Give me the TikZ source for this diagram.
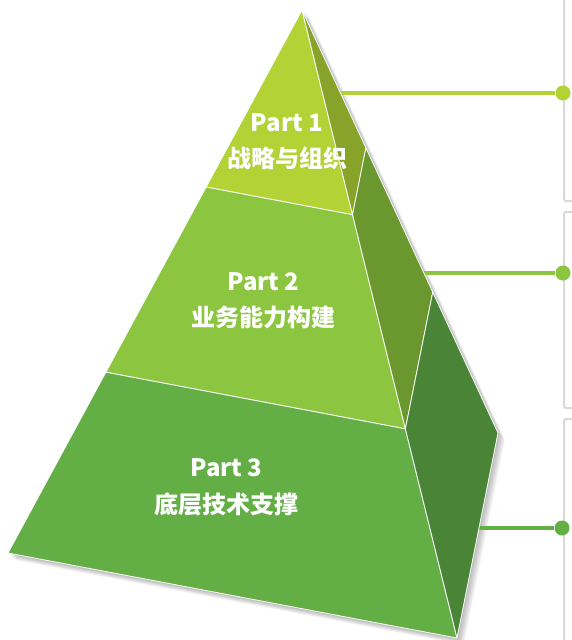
\documentclass[tikz,border=0pt]{standalone}
\usepackage{fontspec}
\newfontfamily\cjk{Noto Sans CJK SC}
\usetikzlibrary{calc}

\definecolor{frontA}{HTML}{B3D235}
\definecolor{sideA}{HTML}{87A329}
\definecolor{frontB}{HTML}{8CC540}
\definecolor{sideB}{HTML}{6B982E}
\definecolor{frontC}{HTML}{64AE46}
\definecolor{sideC}{HTML}{4A8436}
\definecolor{panelgray}{HTML}{D9D9D9}

\begin{document}
\begin{tikzpicture}[x=1pt,y=-1pt,
  face/.style={draw=white,line width=0.8pt,line join=round},
  lbl/.style={text=white,font=\cjk\bfseries\fontsize{24}{28}\selectfont,
    inner sep=0pt},
  lead/.style={line width=4.2pt},
  dot/.style={circle,inner sep=0pt,minimum size=15pt},
  panel/.style={draw=panelgray,line width=2pt,rounded corners=2pt}]
\useasboundingbox (0,0) rectangle (571,640);
% panels on the right
\draw[panel] (564,-20) rectangle (620,201);
\draw[panel] (564,212) rectangle (620,408);
\draw[panel] (564,419) rectangle (620,660);
% pyramid corners and cuts
\coordinate (apex) at (302,10);
\coordinate (bl) at (8,553);
\coordinate (bf) at (457,638);
\coordinate (bb) at (498,433);
\coordinate (l1) at ($(apex)!0.326!(bl)$);
\coordinate (f1) at ($(apex)!0.326!(bf)$);
\coordinate (b1) at ($(apex)!0.326!(bb)$);
\coordinate (l2) at ($(apex)!0.667!(bl)$);
\coordinate (f2) at ($(apex)!0.667!(bf)$);
\coordinate (b2) at ($(apex)!0.667!(bb)$);
% soft shadow
\foreach \s in {1,...,7}
  \fill[black,opacity=0.045] ([shift={(\s,\s)}]apex) -- ([shift={(\s,\s)}]bb)
    -- ([shift={(\s,\s)}]bf) -- ([shift={(\s,\s)}]bl) -- cycle;
% leader lines
\coordinate (e1) at (340,93);
\coordinate (e2) at (424,273);
\coordinate (e3) at (479,528);
\node[dot,fill=frontA] (d1) at (563,93) {};
\node[dot,fill=frontB] (d2) at (563,273) {};
\node[dot,fill=frontC] (d3) at (562,528) {};
\draw[lead,frontA] (e1) -- (d1);
\draw[lead,frontB] (e2) -- (d2);
\draw[lead,frontC] (e3) -- (d3);
% faces
\filldraw[face,fill=frontA] (apex) -- (l1) -- (f1) -- cycle;
\filldraw[face,fill=sideA] (apex) -- (f1) -- (b1) -- cycle;
\filldraw[face,fill=frontB] (l1) -- (l2) -- (f2) -- (f1) -- cycle;
\filldraw[face,fill=sideB] (f1) -- (f2) -- (b2) -- (b1) -- cycle;
\filldraw[face,fill=frontC] (l2) -- (bl) -- (bf) -- (f2) -- cycle;
\filldraw[face,fill=sideC] (f2) -- (bf) -- (bb) -- (b2) -- cycle;
% labels
\node[lbl] (p1) at (287,123) {Part 1};
\node[lbl] (t1) at (287.5,158) {战略与组织};
\node[lbl] (p2) at (263.5,282) {Part 2};
\node[lbl] (t2) at (263.5,317) {业务能力构建};
\node[lbl] (p3) at (226.5,468) {Part 3};
\node[lbl] (t3) at (226,504) {底层技术支撑};
\end{tikzpicture}
\end{document}
